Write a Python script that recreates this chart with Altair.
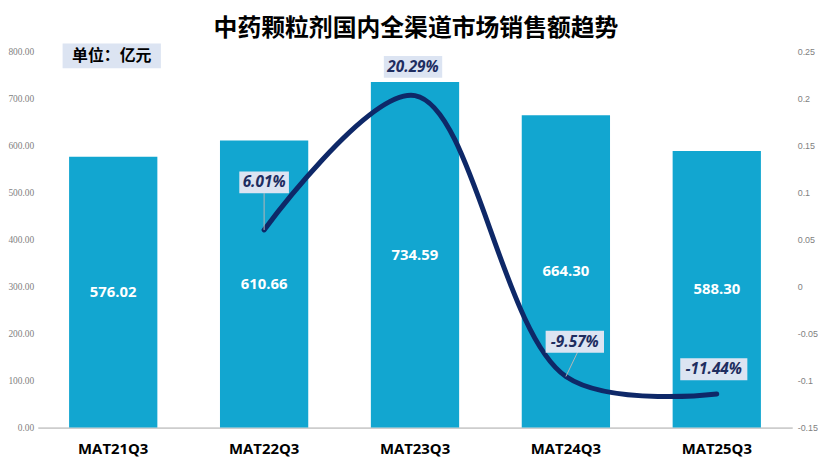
import altair as alt
import pandas as pd

# ---- data ----
categories = ["MAT21Q3", "MAT22Q3", "MAT23Q3", "MAT24Q3", "MAT25Q3"]
sales = [576.02, 610.66, 734.59, 664.30, 588.30]          # 亿元
growth_pct = [None, 6.01, 20.29, -9.57, -11.44]           # %

title_text = "中药颗粒剂国内全渠道市场销售额趋势"
unit_text = "单位：亿元"
left_ticks = [0, 100, 200, 300, 400, 500, 600, 700, 800]
right_ticks = [-0.15, -0.1, -0.05, 0, 0.05, 0.1, 0.15, 0.2, 0.25]

# ---- styles ----
BAR = "#12A6D0"
LINE = "#0E2868"
BOX = "#DCE4F2"
LABEL_COLOR = "#1E2D60"
LEADER = "#B5B5B5"
# label box offsets (px) relative to the line point, and leader line ends
LABEL_DX = [None, 0, -2, 9, -3]
LABEL_DY = [None, -48, -29, -35, -25]
LEADER_END = [None, (0, -37), None, (12, -25), None]

df = pd.DataFrame({"cat": categories, "sales": sales, "growth": growth_pct})
df["rate"] = df["growth"] / 100.0
df["sales_label"] = [f"{v:.2f}" for v in sales]
df["growth_label"] = [("" if g is None else f"{g:.2f}%") for g in growth_pct]

xenc = alt.X(
    "cat:N",
    sort=categories,
    scale=alt.Scale(type="band", paddingInner=0.415, paddingOuter=0.2075),
    axis=alt.Axis(
        title=None, labelAngle=0, labelFont="Open Sans", labelFontSize=15,
        labelFontWeight="bold", labelColor="#000000", labelPadding=14,
        labelBaseline="top", ticks=False, domainColor="#A6A6A6", domainWidth=1,
        grid=False,
    ),
)

left_scale = alt.Scale(domain=[0, 800], nice=False, zero=True)
right_scale = alt.Scale(domain=[-0.15, 0.25], nice=False, zero=False)

yL = alt.Y(
    "sales:Q", scale=left_scale,
    axis=alt.Axis(
        title=None, orient="left", values=left_ticks, format=".2f",
        labelFont="Liberation Serif", labelFontSize=9.5, labelColor="#7F7F7F",
        ticks=False, domain=False, grid=False, labelPadding=4,
    ),
)
yR = alt.Y(
    "rate:Q", scale=right_scale,
    axis=alt.Axis(
        title=None, orient="right", values=right_ticks, labelExpr="datum.value + ''",
        labelFont="Liberation Sans", labelFontSize=9, labelColor="#7F7F7F",
        ticks=False, domain=False, grid=False, labelPadding=5,
    ),
)
yR_noaxis = alt.Y("rate:Q", scale=right_scale, axis=None)

layers = []

layers.append(alt.Chart(df).mark_bar(color=BAR).encode(x=xenc, y=yL))

layers.append(
    alt.Chart(df)
    .transform_filter("isValid(datum.rate)")
    .mark_line(color=LINE, strokeWidth=5, interpolate="catmull-rom", strokeCap="round")
    .encode(x=xenc, y=yR)
)

layers.append(
    alt.Chart(df)
    .transform_calculate(mid="datum.sales / 2")
    .mark_text(font="Open Sans", fontSize=15, fontWeight="bold", color="white")
    .encode(x=xenc, y=alt.Y("mid:Q", scale=left_scale, axis=None), text="sales_label:N")
)

for i, cat in enumerate(categories):
    if growth_pct[i] is None:
        continue
    sub = alt.Chart(df).transform_filter(alt.datum.cat == cat)
    lab = df["growth_label"][i]
    w = len(lab) * 8.8 + 6
    if LEADER_END[i] is not None:
        ex, ey = LEADER_END[i]
        layers.append(
            sub.mark_rule(color=LEADER, strokeWidth=1, x2Offset=ex, y2Offset=ey).encode(
                x=xenc, y=yR_noaxis, x2="cat:N", y2="rate:Q"
            )
        )
    layers.append(
        sub.mark_rect(color=BOX, width=w, height=22, xOffset=LABEL_DX[i], yOffset=LABEL_DY[i]).encode(
            x=xenc, y=yR_noaxis
        )
    )
    layers.append(
        sub.mark_text(
            font="Open Sans", fontSize=15.5, fontWeight="bold", fontStyle="italic",
            color=LABEL_COLOR, dx=LABEL_DX[i], dy=LABEL_DY[i], baseline="middle",
        ).encode(x=xenc, y=yR_noaxis, text="growth_label:N")
    )

one = pd.DataFrame({"t": [title_text], "u": [unit_text]})
layers.append(
    alt.Chart(one).mark_text(
        font="Noto Sans CJK SC", fontSize=24, fontWeight="bold", color="#000000",
        baseline="middle", align="center",
    ).encode(x=alt.value(381), y=alt.value(-22), text="t:N")
)
layers.append(
    alt.Chart(one).mark_rect(color=BOX).encode(
        x=alt.value(25), x2=alt.value(124), y=alt.value(-8), y2=alt.value(17)
    )
)
layers.append(
    alt.Chart(one).mark_text(
        font="Noto Sans CJK SC", fontSize=16, fontWeight="bold", color="#000000",
        baseline="middle", align="center",
    ).encode(x=alt.value(74.5), y=alt.value(4.5), text="u:N")
)

chart = (
    alt.layer(*layers)
    .resolve_scale(y="independent")
    .properties(
        width=760, height=379,
        autosize=alt.AutoSizeParams(type="none"),
        padding={"left": 30, "top": 42, "right": 30, "bottom": 30},
        background="white",
    )
    .configure_view(stroke=None)
)

chart.save("out.html", embed_options={"renderer": "svg", "actions": False})
